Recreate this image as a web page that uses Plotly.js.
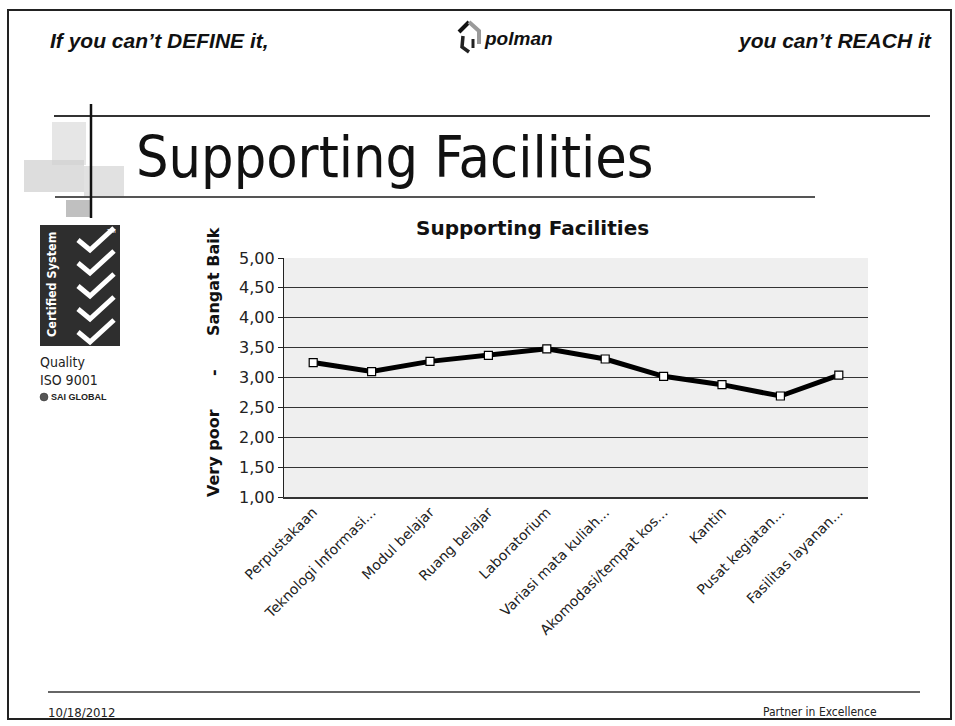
<!DOCTYPE html>
<html>
<head>
<meta charset="utf-8">
<script src="https://cdn.plot.ly/plotly-3.0.1.min.js"></script>
<style>
html,body{margin:0;padding:0;background:#fff;}
#chart{width:955px;height:726px;}
</style>
</head>
<body>
<div id="chart"></div>
<script>
// ---- data ----
const categories = ["Perpustakaan", "Teknologi Informasi...", "Modul belajar", "Ruang belajar", "Laboratorium", "Variasi mata kuliah...", "Akomodasi/tempat kos...", "Kantin", "Pusat kegiatan...", "Fasilitas layanan..."];
const scores = [3.25, 3.10, 3.27, 3.37, 3.48, 3.31, 3.02, 2.88, 2.69, 3.04];
const yTicks = [1.0, 1.5, 2.0, 2.5, 3.0, 3.5, 4.0, 4.5, 5.0];

// ---- pixel helpers (plot area in page pixels) ----
const L = 284, R = 868, T = 258, B = 497;
const W = 955, H = 726;
function px(x){ return (x - L) / (R - L); }
function py(y){ return (B - y) / (B - T); }

const dvs = "DejaVu Sans, Verdana, sans-serif";
const condensed = "DejaVu Sans Condensed, DejaVu Sans, sans-serif";
const arial = "Liberation Sans, Arial, sans-serif";

function rect(x0,y0,x1,y1,fill,lineColor,lw,opacity){
  return {type:'rect', xref:'paper', yref:'paper', x0:px(x0), x1:px(x1), y0:py(y0), y1:py(y1),
    fillcolor: fill || 'rgba(0,0,0,0)', opacity: opacity==null?1:opacity,
    line:{color: lineColor || 'rgba(0,0,0,0)', width: lw||0}, layer:'below'};
}
function line(x0,y0,x1,y1,color,lw){
  return {type:'line', xref:'paper', yref:'paper', x0:px(x0), x1:px(x1), y0:py(y0), y1:py(y1),
    line:{color:color, width:lw}};
}
function pathPx(pts, color, lw, fill){
  let d = pts.map((p,i)=> (i?'L':'M') + px(p[0]) + ',' + py(p[1])).join(' ');
  if (fill) d += ' Z';
  return {type:'path', xref:'paper', yref:'paper', path:d, line:{color:color, width:lw}, fillcolor: fill || 'rgba(0,0,0,0)'};
}
function ann(text, x, y, opts){
  return Object.assign({text:text, xref:'paper', yref:'paper', x:px(x), y:py(y), showarrow:false,
    xanchor:'left', yanchor:'middle'}, opts||{});
}

const shapes = [
  // slide border
  rect(8,10,951,719,null,'#222',2),
  // grey decorative blocks (soft)
  rect(52,122,86,165,'#dcdcdc',null,0,0.7),
  rect(24,160,84,192,'#cfcfcf',null,0,0.7),
  rect(84,166,124,197,'#d4d4d4',null,0,0.7),
  rect(66,200,92,217,'#b0b0b0',null,0,0.8),
  // header lines
  line(54,116,930,116,'#333',2),
  line(55,197,815,197,'#555',2),
  line(91,104,91,218,'#111',2.5),
  // footer line
  line(48,692,920,692,'#333',1.5),
  // certified logo block
  rect(40,225,120,346,'#2e2e2e',null,0,1),
];
// checkmarks
[248, 271, 294, 317, 340].forEach(cy => {
  shapes.push(pathPx([[78,cy-8],[90,cy+2],[114,cy-20]], '#ffffff', 5));
});
// polman icon
shapes.push(pathPx([[459,32],[469,22]], '#111', 4));
shapes.push(pathPx([[469,22],[479,31],[479,44]], '#9a9a9a', 4));
shapes.push(pathPx([[463,36],[462,47],[469,52]], '#222', 3.5));
shapes.push(pathPx([[473,39],[473,48]], '#222', 3));
// SAI globe
shapes.push({type:'circle', xref:'paper', yref:'paper', x0:px(40), x1:px(48), y0:py(401), y1:py(393),
  fillcolor:'#555', line:{color:'#333', width:0.5}});

const annotations = [
  ann("If you can’t DEFINE it,", 48, 40, {font:{family:arial, size:21, color:'#111', weight:700, style:'italic'}}),
  ann("polman", 482, 38, {font:{family:arial, size:19, color:'#111', weight:700, style:'italic'}}),
  ann("you can’t REACH it", 934, 40, {xanchor:'right', font:{family:arial, size:21, color:'#111', weight:700, style:'italic'}}),
  ann("Supporting Facilities", 134, 157, {font:{family:condensed, size:57, color:'#111'}}),
  ann("Supporting Facilities", 532, 228, {xanchor:'center', font:{family:dvs, size:20, color:'#111', weight:700}}),
  ann("Very poor\u00a0\u00a0\u00a0\u00a0\u00a0\u00a0-\u00a0\u00a0\u00a0\u00a0\u00a0\u00a0Sangat Baik", 213, 362,
      {xanchor:'center', textangle:-90, font:{family:dvs, size:16, color:'#111', weight:700}}),
  ann("Certified System", 51, 285, {xanchor:'center', textangle:-90, font:{family:condensed, size:12.5, color:'#fff', weight:700}}),
  ann("TM", 111, 231, {xanchor:'center', font:{family:arial, size:6, color:'#fff'}}),
  ann("Quality", 38, 362, {font:{family:condensed, size:14, color:'#222'}}),
  ann("ISO 9001", 38, 380, {font:{family:condensed, size:14, color:'#222'}}),
  ann("SAI GLOBAL", 49, 397, {font:{family:arial, size:9, color:'#222', weight:700}}),
  ann("10/18/2012", 46, 712, {font:{family:condensed, size:13, color:'#222'}}),
  ann("Partner in Excellence", 879, 712, {xanchor:'right', font:{family:condensed, size:12, color:'#222'}}),
];

const trace = {
  type:'scatter', mode:'lines+markers', x:categories, y:scores,
  line:{color:'#000', width:5},
  marker:{symbol:'square', size:8, color:'#fff', line:{color:'#000', width:1.2}},
  cliponaxis:false, hoverinfo:'skip'
};

const layout = {
  width:W, height:H,
  margin:{l:L, r:W-R, t:T, b:H-B, pad:0},
  paper_bgcolor:'#ffffff', plot_bgcolor:'#efefef',
  separators:',.',
  showlegend:false,
  font:{family:dvs, color:'#222'},
  xaxis:{type:'category', categoryorder:'array', categoryarray:categories, range:[-0.5, categories.length-0.5],
    showgrid:false, showline:true, linecolor:'#333', linewidth:1.5, ticks:'', tickangle:-45,
    tickfont:{family:dvs, size:14, color:'#222'}, zeroline:false, fixedrange:true},
  yaxis:{range:[1,5], tickvals:yTicks, tickformat:'.2f', showgrid:true, gridcolor:'#333', gridwidth:1.2,
    showline:true, linecolor:'#222', linewidth:1.2, ticks:'outside', ticklen:5, tickcolor:'#222',
    tickfont:{family:dvs, size:16, color:'#222'}, zeroline:false, fixedrange:true},
  shapes:shapes, annotations:annotations
};

Plotly.newPlot('chart', [trace], layout, {displayModeBar:false, staticPlot:true});
</script>
</body>
</html>
